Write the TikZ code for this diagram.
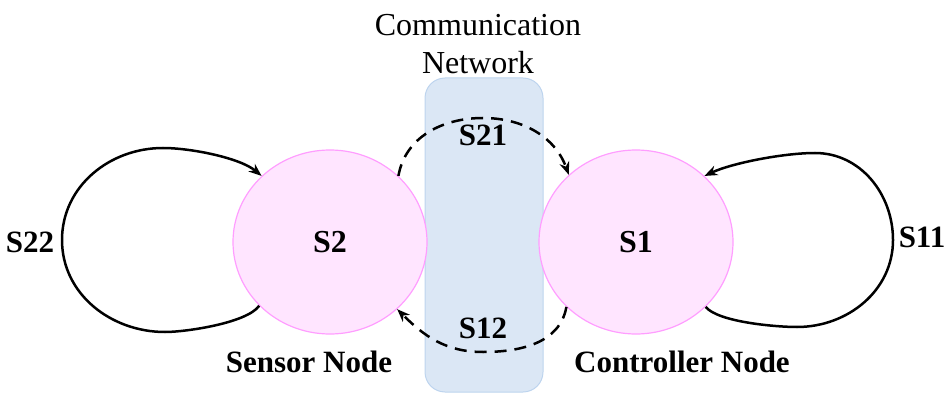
\documentclass[tikz,border=0pt]{standalone}
\usepackage{fontspec}
\setmainfont{Liberation Serif}
\usetikzlibrary{arrows.meta,shapes.geometric}
\definecolor{pinkfill}{HTML}{FFE5FF}
\definecolor{pinkline}{HTML}{FF9EFF}
\definecolor{bluefill}{HTML}{DBE7F5}
\definecolor{blueline}{HTML}{BDD4EE}
\begin{document}
\begin{tikzpicture}[x=1pt,y=1pt,
  statenode/.style={ellipse,draw=pinkline,line width=1.2pt,fill=pinkfill,minimum width=194pt,minimum height=184pt,inner sep=0pt,font=\fontsize{32}{38}\selectfont\bfseries},
  lbl/.style={font=\fontsize{31}{38}\selectfont\bfseries,inner sep=0pt},
  conn/.style={line width=2.5pt,-{Stealth[length=13pt,width=10pt]}},
  dconn/.style={conn,dash pattern=on 12pt off 8pt}]
\useasboundingbox (0,0) rectangle (949,394);
\node[draw=blueline,fill=bluefill,line width=1pt,rounded corners=20pt,minimum width=118pt,minimum height=314pt,inner sep=0pt] (net) at (484,159) {};
\node[font=\fontsize{32}{38}\selectfont,align=center,inner sep=0pt] (nettxt) at (478,350) {Communication\\Network};
\node[statenode] (s2) at (330,152) {S2};
\node[statenode] (s1) at (636,152) {S1};
\node[lbl] (l21) at (483,259) {S21};
\node[lbl] (l12) at (483,66) {S12};
\node[lbl] (sn) at (309,32) {Sensor Node};
\node[lbl] (cn) at (682,32) {Controller Node};
\node[lbl] (l22) at (30,152) {S22};
\node[lbl] (l11) at (922,157) {S11};
\coordinate (a1) at (165,62);
\coordinate (a2) at (62,154);
\coordinate (a3) at (163,246);
\coordinate (b1) at (797,67);
\coordinate (b2) at (893,154);
\coordinate (b3) at (815,241);
\coordinate (c1) at (483,276);
\coordinate (d1) at (483,42);
\draw[conn] (s2.222) to[out=-125,in=0,looseness=0.55] (a1) to[out=180,in=-90] (a2) to[out=90,in=180] (a3) to[out=0,in=140,looseness=0.7] (s2.136);
\draw[conn] (s1.317) to[out=-50,in=180,looseness=0.55] (b1) to[out=0,in=-90] (b2) to[out=90,in=0] (b3) to[out=180,in=25,looseness=0.7] (s1.44);
\draw[dconn] (s2.44) to[out=80,in=180] (c1) to[out=0,in=110] (s1.135);
\draw[dconn] (s1.223) to[out=-100,in=0] (d1) to[out=180,in=-45] (s2.315);
\end{tikzpicture}
\end{document}
